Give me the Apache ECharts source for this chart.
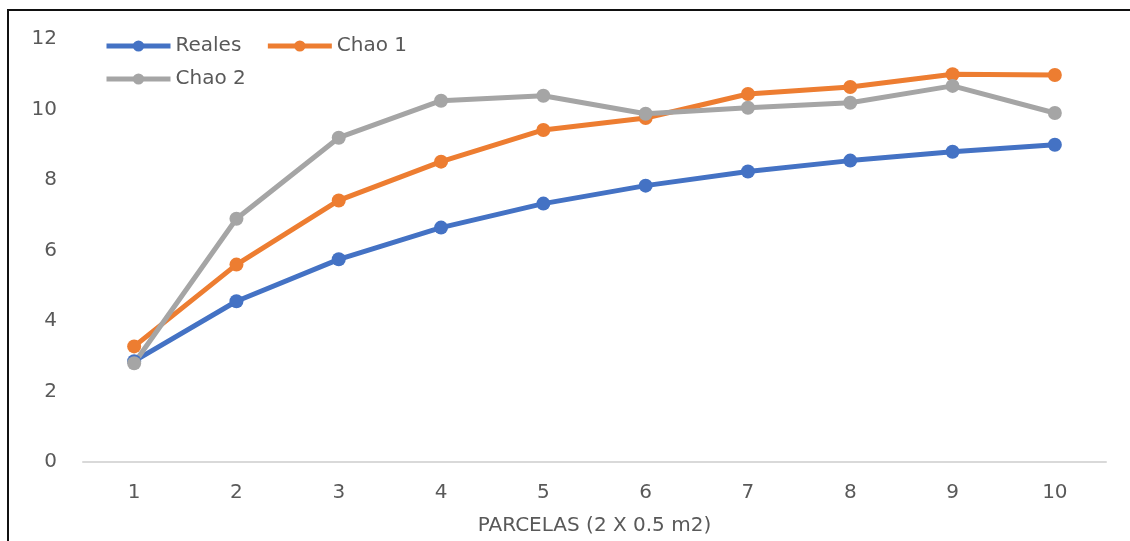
<!DOCTYPE html>
<html>
<head>
<meta charset="utf-8">
<script src="https://cdn.jsdelivr.net/npm/echarts@6/dist/echarts.min.js"></script>
<style>
  html, body { margin: 0; padding: 0; background: #fff; overflow: hidden; }
  #wrap { position: relative; width: 1130px; height: 541px; overflow: hidden; }
  #frame { position: absolute; left: 7px; top: 9px; width: 1200px; height: 600px; border: 2px solid #111; box-sizing: border-box; }
  #chart { position: absolute; left: 0; top: 0; width: 1130px; height: 541px; }
</style>
</head>
<body>
<div id="wrap">
  <div id="frame"></div>
  <div id="chart"></div>
</div>
<script>
const parcelas = ['1', '2', '3', '4', '5', '6', '7', '8', '9', '10']
const reales = [2.86, 4.56, 5.75, 6.65, 7.33, 7.84, 8.24, 8.55, 8.80, 9.00]
const chao1 = [3.28, 5.60, 7.42, 8.52, 9.42, 9.76, 10.44, 10.64, 11.00, 10.98]
const chao2 = [2.80, 6.90, 9.20, 10.25, 10.39, 9.88, 10.05, 10.19, 10.67, 9.90]

const textColor = '#595959'
const fontFam = '"DejaVu Sans", "Liberation Sans", sans-serif'

function mkSeries(name, data, color) {
  return {
    name: name,
    type: 'line',
    data: data,
    symbol: 'circle',
    symbolSize: 14,
    lineStyle: { width: 5, color: color },
    itemStyle: { color: color },
    emphasis: { disabled: true }
  }
}

// legenda en dos filas, como el original
function mkLegend(top, names) {
  return {
    left: 99,
    top: top,
    itemWidth: 64,
    itemHeight: 14,
    itemGap: 24,
    lineStyle: { width: 5 },
    textStyle: { color: textColor, fontSize: 20, fontFamily: fontFam },
    data: names
  }
}

const chart = echarts.init(document.getElementById('chart'))
chart.setOption({
  animation: false,
  textStyle: { fontFamily: fontFam },
  grid: { left: 83, right: 24, top: 39, bottom: 65, containLabel: false },
  legend: [
    mkLegend(31, ['Reales', 'Chao 1']),
    mkLegend(64, ['Chao 2'])
  ],
  xAxis: {
    type: 'category',
    data: parcelas,
    name: 'PARCELAS (2 X 0.5 m2)',
    nameLocation: 'middle',
    nameGap: 54,
    nameTextStyle: { color: textColor, fontSize: 20, fontFamily: fontFam },
    axisLine: { lineStyle: { color: '#D9D9D9', width: 2 } },
    axisTick: { show: false },
    axisLabel: { color: textColor, fontSize: 20, margin: 21 }
  },
  yAxis: {
    type: 'value',
    min: 0,
    max: 12,
    interval: 2,
    axisLine: { show: false },
    axisTick: { show: false },
    splitLine: { show: false },
    axisLabel: { color: textColor, fontSize: 20, margin: 26 }
  },
  series: [
    mkSeries('Reales', reales, '#4472C4'),
    mkSeries('Chao 1', chao1, '#ED7D31'),
    mkSeries('Chao 2', chao2, '#A5A5A5')
  ]
})
</script>
</body>
</html>
